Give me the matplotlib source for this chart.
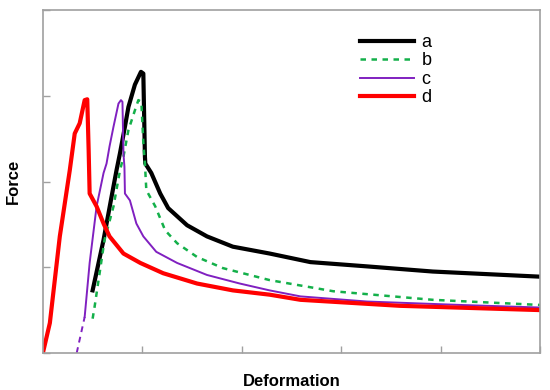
import matplotlib
matplotlib.use("Agg")
import matplotlib.pyplot as plt

plt.rcParams['font.family'] = ['Liberation Sans', 'DejaVu Sans']

# curve a (black)
a_x = [0.50, 0.61, 0.69, 0.74, 0.775, 0.825, 0.86, 0.925, 0.986, 1.01, 1.026, 1.03, 1.09, 1.18, 1.26, 1.45, 1.65, 1.91, 2.28, 2.69, 3.26, 3.92, 5.0]
a_y = [0.73, 1.32, 1.82, 2.13, 2.33, 2.64, 2.87, 3.13, 3.28, 3.26, 2.29, 2.21, 2.10, 1.86, 1.69, 1.49, 1.36, 1.24, 1.16, 1.06, 1.01, 0.95, 0.89]

# curve b (green dashed)
b_x = [0.50, 0.52, 0.62, 0.71, 0.775, 0.81, 0.86, 0.925, 0.96, 0.99, 1.01, 1.026, 1.04, 1.13, 1.23, 1.35, 1.55, 1.81, 2.28, 2.92, 3.92, 5.0]
b_y = [0.40, 0.54, 1.32, 1.71, 2.13, 2.29, 2.60, 2.83, 2.95, 2.93, 2.45, 2.21, 1.90, 1.71, 1.43, 1.28, 1.12, 0.99, 0.85, 0.72, 0.62, 0.56]

# curve c (purple), first bit is dashed
c0_x = [0.34, 0.42]
c0_y = [0.0, 0.42]
c_x = [0.42, 0.47, 0.54, 0.61, 0.64, 0.67, 0.71, 0.76, 0.785, 0.80, 0.81, 0.82, 0.825, 0.875, 0.94, 1.01, 1.14, 1.35, 1.65, 1.98, 2.28, 2.59, 3.26, 4.2, 5.0]
c_y = [0.42, 1.05, 1.71, 2.10, 2.21, 2.41, 2.64, 2.91, 2.95, 2.93, 2.33, 2.17, 1.86, 1.78, 1.51, 1.36, 1.18, 1.05, 0.91, 0.81, 0.73, 0.66, 0.60, 0.56, 0.53]

# curve d (red)
d_x = [0.0, 0.07, 0.17, 0.20, 0.27, 0.32, 0.37, 0.42, 0.446, 0.46, 0.47, 0.54, 0.61, 0.67, 0.81, 0.98, 1.21, 1.55, 1.91, 2.28, 2.59, 3.59, 5.0]
d_y = [0.0, 0.35, 1.36, 1.59, 2.13, 2.56, 2.68, 2.95, 2.96, 2.37, 1.86, 1.71, 1.51, 1.36, 1.16, 1.05, 0.93, 0.81, 0.73, 0.68, 0.62, 0.55, 0.50]

fig = plt.figure(figsize=(5.5, 3.9), dpi=100)
ax = fig.add_axes([0.078, 0.095, 0.904, 0.879])

ax.plot(a_x, a_y, color='black', lw=3, label='a', solid_joinstyle='round')
ax.plot(b_x, b_y, color='#14b04a', lw=1.8, dashes=(2.2, 2.2), label='b')
ax.plot(c0_x, c0_y, color='#8020c0', lw=1.4, dashes=(3, 2.5))
ax.plot(c_x, c_y, color='#8020c0', lw=1.4, label='c')
ax.plot(d_x, d_y, color='#ff0000', lw=3, label='d', solid_joinstyle='round')

ax.set_xlim(0, 5)
ax.set_ylim(0, 4)
ax.set_xticks([0, 1, 2, 3, 4, 5])
ax.set_yticks([0, 1, 2, 3, 4])
ax.set_xticklabels([])
ax.set_yticklabels([])
ax.tick_params(direction='in', length=5, width=1, color='#a0a0a0')
for s in ax.spines.values():
    s.set_color('#a0a0a0')
    s.set_linewidth(1.2)

ax.set_xlabel('Deformation', fontsize=12, fontweight='bold', labelpad=12)
ax.set_ylabel('Force', fontsize=12, fontweight='bold', labelpad=12)

ax.legend(loc='upper left', bbox_to_anchor=(0.605, 0.978), frameon=False,
          fontsize=13, handlelength=3.0, handletextpad=0.4, labelspacing=0.08)

fig.savefig('out.png', dpi=100)
